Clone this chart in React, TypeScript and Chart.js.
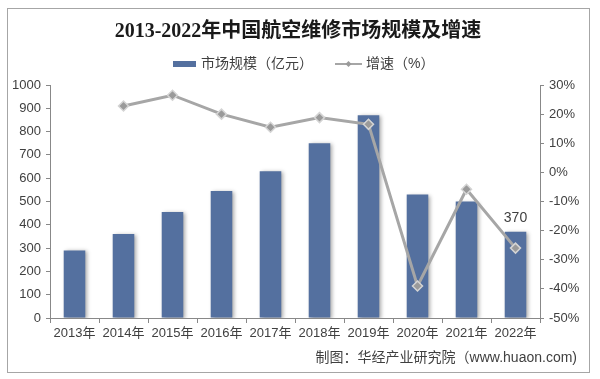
import React, { useEffect, useRef } from "react";
import { Chart, registerables } from "chart.js";

Chart.register(...registerables);

const categories = ["2013年", "2014年", "2015年", "2016年", "2017年", "2018年", "2019年", "2020年", "2021年", "2022年"];
const marketSize = [290, 360, 455, 545, 630, 750, 870, 530, 500, 370];
const growthRate = [null, 22.8, 26.5, 20.0, 15.5, 18.8, 16.5, -39.0, -5.8, -26.0];
const titleText = "2013-2022年中国航空维修市场规模及增速";
const barLegend = "市场规模（亿元）";
const lineLegend = "增速（%）";
const sourceText = "制图：华经产业研究院（www.huaon.com)";

const SANS = '"Liberation Sans", "Noto Sans CJK SC", sans-serif';

const decorPlugin = {
  id: "decor",
  beforeDraw(chart: any) {
    const ctx = chart.ctx;
    ctx.save();
    ctx.fillStyle = "#ffffff";
    ctx.fillRect(0, 0, chart.width, chart.height);
    ctx.strokeStyle = "#a6a6a6";
    ctx.lineWidth = 1;
    ctx.strokeRect(7.5, 8.5, 582, 364);
    ctx.restore();
  },
  beforeDatasetDraw(chart: any, args: any) {
    if (args.index === 0) {
      const ctx = chart.ctx;
      ctx.save();
      ctx.shadowColor = "rgba(0,0,0,0.35)";
      ctx.shadowBlur = 4;
      ctx.shadowOffsetX = 2;
      ctx.shadowOffsetY = 1;
    }
  },
  afterDatasetDraw(chart: any, args: any) {
    if (args.index === 0) chart.ctx.restore();
  },
  afterDraw(chart: any) {
    const ctx = chart.ctx;
    ctx.save();
    // title
    ctx.fillStyle = "#1a1a1a";
    ctx.font = 'bold 20px "Liberation Serif", "Noto Sans CJK SC", serif';
    ctx.textAlign = "center";
    ctx.textBaseline = "middle";
    ctx.fillText(titleText, 298, 32);
    // legend
    ctx.font = `14px ${SANS}`;
    ctx.textAlign = "left";
    ctx.fillStyle = "#54709f";
    ctx.fillRect(173, 61, 23, 6);
    ctx.fillStyle = "#404040";
    ctx.fillText(barLegend, 201, 64);
    ctx.strokeStyle = "#a6a6a6";
    ctx.lineWidth = 2;
    ctx.beginPath();
    ctx.moveTo(335, 64);
    ctx.lineTo(362, 64);
    ctx.stroke();
    ctx.fillStyle = "#9a9a9a";
    ctx.beginPath();
    ctx.moveTo(348.5, 61);
    ctx.lineTo(351.5, 64);
    ctx.lineTo(348.5, 67);
    ctx.lineTo(345.5, 64);
    ctx.closePath();
    ctx.fill();
    ctx.fillStyle = "#404040";
    ctx.fillText(lineLegend, 366, 64);
    // data label on last bar
    const meta = chart.getDatasetMeta(0);
    const last = meta.data[meta.data.length - 1];
    ctx.font = `14px ${SANS}`;
    ctx.textAlign = "center";
    ctx.fillText(String(marketSize[marketSize.length - 1]), last.x, last.y - 14);
    // source
    ctx.textAlign = "right";
    ctx.fillText(sourceText, 577, 358);
    ctx.restore();
  },
};

export default function App() {
  const ref = useRef<HTMLCanvasElement>(null);
  useEffect(() => {
    if (!ref.current) return;
    const chart = new Chart(ref.current, {
      type: "bar",
      data: {
        labels: categories,
        datasets: [
          {
            type: "bar",
            label: barLegend,
            data: marketSize,
            backgroundColor: "#54709f",
            barPercentage: 0.44,
            categoryPercentage: 1,
            yAxisID: "y",
            order: 1,
          },
          {
            type: "line",
            label: lineLegend,
            data: growthRate as any,
            borderColor: "#a6a6a6",
            borderWidth: 3,
            pointStyle: "rectRot",
            pointRadius: 5,
            pointBackgroundColor: "#9a9a9a",
            pointBorderColor: "#d4d4d4",
            pointBorderWidth: 1.5,
            yAxisID: "y1",
            order: 0,
          } as any,
        ],
      },
      plugins: [decorPlugin],
      options: {
        animation: false,
        responsive: false,
        maintainAspectRatio: false,
        layout: { padding: { left: 8, right: 15, top: 85, bottom: 0 } },
        plugins: { legend: { display: false }, title: { display: false }, tooltip: { enabled: false } },
        scales: {
          x: {
            offset: true,
            grid: { display: true, drawOnChartArea: false, drawTicks: true, tickLength: 5, color: "#888888", offset: true },
            border: { display: true, color: "#888888" },
            ticks: { color: "#404040", font: { family: SANS, size: 13 }, padding: 3, maxRotation: 0, autoSkip: false },
            afterFit: (s: any) => { s.height = 61; },
          },
          y: {
            position: "left",
            min: 0,
            max: 1000,
            grid: { display: true, drawOnChartArea: false, drawTicks: true, tickLength: 4, color: "#888888" },
            border: { display: true, color: "#888888" },
            ticks: { stepSize: 100, color: "#404040", font: { family: SANS, size: 13 }, padding: 5, callback: (v: any) => String(v) },
            afterFit: (s: any) => { s.width = 42; },
          },
          y1: {
            position: "right",
            min: -50,
            max: 30,
            grid: { display: true, drawOnChartArea: false, drawTicks: true, tickLength: 4, color: "#888888" },
            border: { display: true, color: "#888888" },
            ticks: { stepSize: 10, color: "#404040", font: { family: SANS, size: 13 }, padding: 5, callback: (v: any) => `${v}%` },
            afterFit: (s: any) => { s.width = 45; },
          },
        },
      },
    });
    return () => chart.destroy();
  }, []);
  return (
    <div style={{ position: "absolute", left: 0, top: 0, width: 600, height: 379, background: "#fff" }}>
      <canvas ref={ref} width={600} height={379} style={{ width: 600, height: 379, display: "block" }} />
    </div>
  );
}
